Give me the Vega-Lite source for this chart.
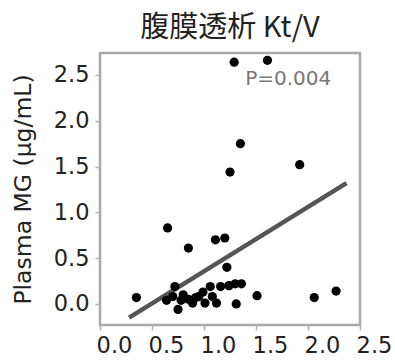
{
  "$schema": "https://vega.github.io/schema/vega-lite/v6.json",
  "autosize": {"type": "none"},
  "width": 260,
  "height": 272,
  "padding": {"left": 100, "top": 53, "right": 35, "bottom": 36},
  "background": "white",
  "config": {
    "view": {"stroke": "#a8a8a8", "strokeWidth": 2.5},
    "axis": {
      "domain": false,
      "grid": false,
      "tickColor": "#b0b0b0",
      "tickSize": 5,
      "tickWidth": 1.5,
      "labelFont": "DejaVu Sans",
      "labelFontSize": 22.5,
      "labelColor": "#222222",
      "titleFont": "DejaVu Sans",
      "titleFontSize": 23.5,
      "titleFontWeight": "normal",
      "titleColor": "#222222"
    }
  },
  "title": {
    "text": "腹膜透析 Kt/V",
    "font": "Noto Sans CJK JP",
    "fontSize": 29,
    "fontWeight": "normal",
    "color": "#222222",
    "anchor": "middle",
    "offset": 10
  },
  "datasets": {
    "points": [
      {"ktv": 0.35, "mg": 0.07},
      {"ktv": 0.65, "mg": 0.83},
      {"ktv": 0.85, "mg": 0.61},
      {"ktv": 1.11, "mg": 0.70},
      {"ktv": 1.20, "mg": 0.72},
      {"ktv": 1.22, "mg": 0.40},
      {"ktv": 0.72, "mg": 0.19},
      {"ktv": 0.64, "mg": 0.04},
      {"ktv": 0.70, "mg": 0.08},
      {"ktv": 0.75, "mg": -0.06},
      {"ktv": 0.80, "mg": 0.10},
      {"ktv": 0.85, "mg": 0.05},
      {"ktv": 0.89, "mg": 0.01},
      {"ktv": 0.95, "mg": 0.08},
      {"ktv": 0.99, "mg": 0.13},
      {"ktv": 1.01, "mg": 0.01},
      {"ktv": 1.06, "mg": 0.19},
      {"ktv": 1.08, "mg": 0.08},
      {"ktv": 1.12, "mg": 0.01},
      {"ktv": 1.16, "mg": 0.19},
      {"ktv": 1.24, "mg": 0.20},
      {"ktv": 1.30, "mg": 0.22},
      {"ktv": 1.36, "mg": 0.22},
      {"ktv": 1.31, "mg": 0.00},
      {"ktv": 1.51, "mg": 0.09},
      {"ktv": 2.06, "mg": 0.07},
      {"ktv": 2.27, "mg": 0.14},
      {"ktv": 1.29, "mg": 2.64},
      {"ktv": 1.61, "mg": 2.66},
      {"ktv": 1.35, "mg": 1.75},
      {"ktv": 1.25, "mg": 1.44},
      {"ktv": 1.92, "mg": 1.52},
      {"ktv": 0.92, "mg": 0.07},
      {"ktv": 0.78, "mg": 0.04}
    ],
    "fit": [
      {"ktv": 0.28, "mg": -0.15},
      {"ktv": 2.37, "mg": 1.32}
    ],
    "note": [
      {"ktv": 1.81, "mg": 2.46, "label": "P=0.004"}
    ]
  },
  "layer": [
    {
      "data": {"name": "fit"},
      "mark": {"type": "line", "color": "#555555", "strokeWidth": 4.5},
      "encoding": {
        "x": {"field": "ktv", "type": "quantitative"},
        "y": {"field": "mg", "type": "quantitative"}
      }
    },
    {
      "data": {"name": "points"},
      "mark": {"type": "circle", "color": "#000000", "opacity": 1, "size": 85},
      "encoding": {
        "x": {
          "field": "ktv",
          "type": "quantitative",
          "scale": {"domain": [0, 2.5], "nice": false, "zero": false},
          "axis": {
            "title": null,
            "values": [0, 0.25, 0.5, 0.75, 1, 1.25, 1.5, 1.75, 2, 2.25, 2.5],
            "labelExpr": "abs(datum.value * 2 - round(datum.value * 2)) < 0.01 ? format(datum.value, '.1f') : ''",
            "labelPadding": 4,
            "labelOffset": 14,
            "labelFlush": false,
            "labelOverlap": false
          }
        },
        "y": {
          "field": "mg",
          "type": "quantitative",
          "scale": {"domain": [-0.23, 2.74], "nice": false, "zero": false},
          "axis": {
            "title": "Plasma MG (μg/mL)",
            "values": [0, 0.25, 0.5, 0.75, 1, 1.25, 1.5, 1.75, 2, 2.25, 2.5],
            "labelExpr": "abs(datum.value * 2 - round(datum.value * 2)) < 0.01 ? format(datum.value, '.1f') : ''",
            "labelPadding": 6,
            "titlePadding": 18,
            "labelFlush": false,
            "labelOverlap": false
          }
        }
      }
    },
    {
      "data": {"name": "note"},
      "mark": {"type": "text", "font": "DejaVu Sans", "fontSize": 20, "color": "#777777", "align": "center", "baseline": "middle"},
      "encoding": {
        "x": {"field": "ktv", "type": "quantitative"},
        "y": {"field": "mg", "type": "quantitative"},
        "text": {"field": "label"}
      }
    }
  ]
}
